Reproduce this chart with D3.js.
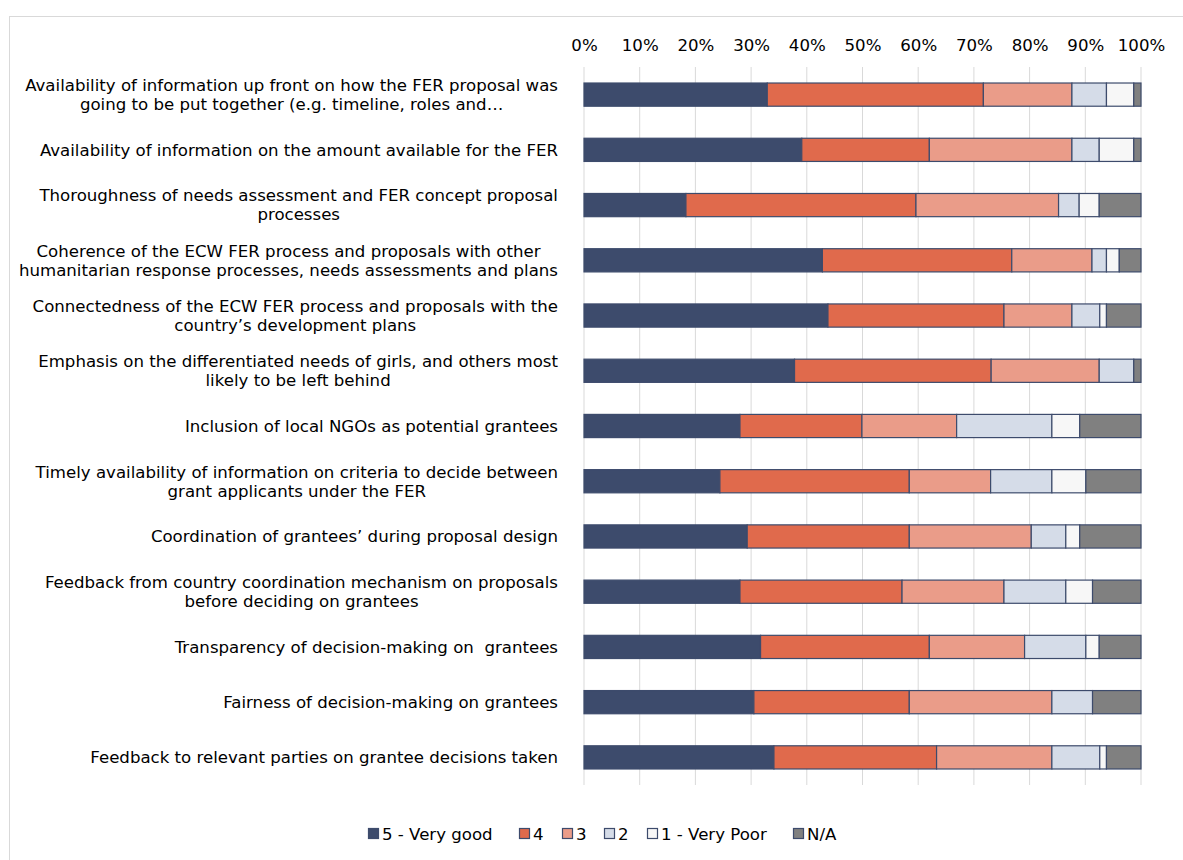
<!DOCTYPE html>
<html><head><meta charset="utf-8">
<script src="https://cdn.jsdelivr.net/npm/d3@7"></script>
<style>body{margin:0;background:#fff;} svg{display:block;} text{white-space:pre;}</style>
</head><body>
<svg id="chart" width="1183" height="860"></svg>
<script>
const categories = [
  ["Availability of information up front on how the FER proposal was","going to be put together (e.g. timeline, roles and…"],
  ["Availability of information on the amount available for the FER"],
  ["Thoroughness of needs assessment and FER concept proposal","processes"],
  ["Coherence of the ECW FER process and proposals with other","humanitarian response processes, needs assessments and plans"],
  ["Connectedness of the ECW FER process and proposals with the","country’s development plans"],
  ["Emphasis on the differentiated needs of girls, and others most","likely to be left behind"],
  ["Inclusion of local NGOs as potential grantees"],
  ["Timely availability of information on criteria to decide between","grant applicants under the FER"],
  ["Coordination of grantees’ during proposal design"],
  ["Feedback from country coordination mechanism on proposals","before deciding on grantees"],
  ["Transparency of decision-making on  grantees"],
  ["Fairness of decision-making on grantees"],
  ["Feedback to relevant parties on grantee decisions taken"]
];
const seriesNames = ["5 - Very good","4","3","2","1 - Very Poor","N/A"];
const veryGood = [32.9,39.1,18.3,42.8,43.8,37.8,28.0,24.4,29.3,28.0,31.7,30.5,34.1];
const four     = [38.8,22.9,41.3,34.0,31.6,35.3,21.9,34.0,29.1,29.1,30.3,27.9,29.2];
const three    = [15.9,25.6,25.6,14.4,12.2,19.4,17.0,14.6,21.9,18.3,17.1,25.6,20.7];
const two      = [6.2,4.9,3.7,2.6,5.0,6.2,17.1,11.0,6.2,11.1,11.0,7.3,8.6];
const veryPoor = [4.9,6.2,3.6,2.3,1.2,0,5.0,6.1,2.5,4.8,2.4,0,1.2];
const na       = [1.3,1.3,7.5,3.9,6.2,1.3,11.0,9.9,11.0,8.7,7.5,8.7,6.2];
const tickLabels = ["0%","10%","20%","30%","40%","50%","60%","70%","80%","90%","100%"];
const colors = ["#3D4B6C","#E06A4C","#EA9C89","#D5DCE8","#F7F7F7","#808080"];

const svg = d3.select("#chart");
const FONT = "'DejaVu Sans',sans-serif";
const FS = 16.6;

svg.append("rect").attr("x",9.5).attr("y",16.5).attr("width",1190).attr("height",860)
  .attr("fill","none").attr("stroke","#D9D9D9").attr("stroke-width",1);

const x = d3.scaleLinear().domain([0,100]).range([584,1141]);
const y = d3.scaleBand().domain(d3.range(categories.length)).range([67,785]).paddingInner(0.58).paddingOuter(0.29);

// gridlines
svg.append("g").selectAll("line").data(d3.range(0,101,10)).join("line")
  .attr("x1",d=>x(d)).attr("x2",d=>x(d)).attr("y1",67).attr("y2",785)
  .attr("stroke","#D9D9D9").attr("stroke-width",1);

// top axis
const axis = d3.axisTop(x).tickValues(d3.range(0,101,10)).tickFormat((d,i)=>tickLabels[i]).tickSize(0).tickPadding(0);
const ag = svg.append("g").attr("transform","translate(0,45)").call(axis);
ag.select(".domain").remove();
ag.selectAll("text").attr("dy","0.35em").attr("font-family",FONT).attr("font-size",FS).attr("fill","#000");

// stack
const rows = categories.map((c,i)=>({i, v:[veryGood[i],four[i],three[i],two[i],veryPoor[i],na[i]]}));
const keys = d3.range(6);
const stack = d3.stack().keys(keys).value((d,k)=>d.v[k]);
const layers = stack(rows);
svg.append("g").selectAll("g").data(layers).join("g")
  .attr("fill",(d,i)=>colors[i])
  .selectAll("rect").data(d=>d.filter(s=>s[1]-s[0]>0)).join("rect")
  .attr("x",d=>x(d[0])).attr("width",d=>x(d[1])-x(d[0]))
  .attr("y",d=>y(d.data.i)).attr("height",y.bandwidth())
  .attr("stroke","#3D4B6C").attr("stroke-width",1.2);

// labels
const lg = svg.append("g");
categories.forEach((lines,i)=>{
  const cy = y(i)+y.bandwidth()/2;
  const lh = 19;
  const t = lg.append("text").attr("font-family",FONT).attr("font-size",FS).attr("fill","#000");
  const tsp = lines.map((l,j)=>t.append("tspan").text(l)
     .attr("y", cy + (j-(lines.length-1)/2)*lh).attr("dy","0.35em"));
  if(lines.length===1){
    t.attr("text-anchor","end"); tsp[0].attr("x",558);
  } else {
    const w = d3.max(tsp,s=>s.node().getComputedTextLength());
    t.attr("text-anchor","middle"); tsp.forEach(s=>s.attr("x",558-w/2));
  }
});

// legend
const legX = [368,519,562,604,647,793];
const leg = svg.append("g");
seriesNames.forEach((n,i)=>{
  leg.append("rect").attr("x",legX[i]+0.5).attr("y",828.5).attr("width",10).attr("height",10)
    .attr("fill",colors[i]).attr("stroke","#3D4B6C").attr("stroke-width",1.2);
  leg.append("text").attr("x",legX[i]+14).attr("y",834).attr("dy","0.35em")
    .attr("font-family",FONT).attr("font-size",FS).attr("fill","#000").text(n);
});
</script>
</body></html>
